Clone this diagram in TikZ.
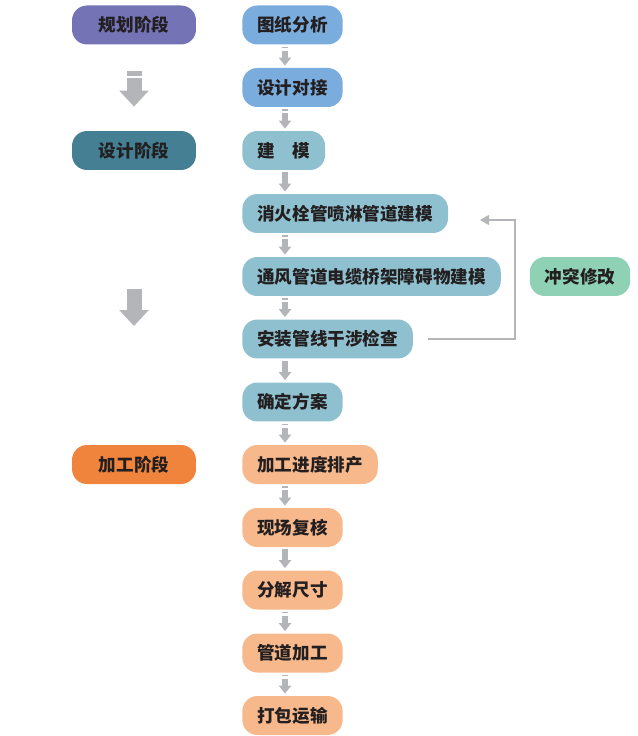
\documentclass[tikz,border=0pt]{standalone}
\usepackage{fontspec}
\setmainfont{Noto Sans CJK SC}
\usepackage{xcolor}
\usetikzlibrary{arrows.meta}
\definecolor{plancol}{HTML}{7373B5}
\definecolor{designcol}{HTML}{457F94}
\definecolor{makecol}{HTML}{F0843C}
\definecolor{drawcol}{HTML}{7AADDD}
\definecolor{modelcol}{HTML}{8FC0CF}
\definecolor{fabcol}{HTML}{F7B98C}
\definecolor{fixcol}{HTML}{8FD1B4}
\definecolor{arrgray}{HTML}{B4B5B8}
\definecolor{ink}{HTML}{231F20}
\begin{document}
\begin{tikzpicture}[x=0.02cm,y=-0.02cm,
  box/.style={rounded corners=0.3cm,minimum height=0.78cm,inner xsep=0.3cm,inner ysep=0pt,
    text=ink,font=\fontsize{10pt}{12pt}\selectfont\bfseries},
  stage/.style={box,minimum width=2.48cm},
  task/.style={box,anchor=west},
  flow/.style={draw=arrgray,line width=0.12cm,-{Triangle[width=0.24cm,length=0.16cm]},
    shorten <=0.04cm,shorten >=0.04cm},
  flowbar/.style={flow,dash pattern=on 0.03cm off 0.05cm on 2cm off 0.1cm},
  bigflow/.style={draw=arrgray,line width=0.3cm,-{Triangle[width=0.57cm,length=0.32cm]}},
  loopline/.style={draw=arrgray,line width=0.7pt,-{Triangle[width=0.2cm,length=0.18cm]}}]
\useasboundingbox (0,0) rectangle (638,736);
%
\node[stage,fill=plancol] (s1) at (134,25) {规划阶段};
\node[stage,fill=designcol] (s2) at (134,150.5) {设计阶段};
\node[stage,fill=makecol] (s3) at (134,464.5) {加工阶段};
\coordinate (g1) at (134,289);
\coordinate (g2) at (134,326);
\draw[bigflow,dash pattern=on 0.1cm off 0.04cm on 2cm off 0.1cm,shorten <=0.52cm,shorten >=0.48cm] (s1) -- (s2);
\draw[bigflow] (g1) -- (g2);
%
\node[task,fill=drawcol] (r1) at (242,25) {图纸分析};
\node[task,fill=drawcol] (r2) at (242,87.5) {设计对接};
\node[task,fill=modelcol] (r3) at (242,150.5) {建\quad 模};
\node[task,fill=modelcol] (r4) at (242,213.5) {消火栓管喷淋管道建模};
\node[task,fill=modelcol] (r5) at (242,276.5) {通风管道电缆桥架障碍物建模};
\node[task,fill=modelcol] (r6) at (242,339) {安装管线干涉检查};
\node[task,fill=modelcol] (r7) at (242,402) {确定方案};
\node[task,fill=fabcol] (r8) at (242,464.5) {加工进度排产};
\node[task,fill=fabcol] (r9) at (242,527.5) {现场复核};
\node[task,fill=fabcol] (r10) at (242,590) {分解尺寸};
\node[task,fill=fabcol] (r11) at (242,653) {管道加工};
\node[task,fill=fabcol] (r12) at (242,715.5) {打包运输};
\node[box,fill=fixcol,minimum width=2cm] (fix) at (580,276.5) {冲突修改};
%
\draw[flowbar] (r1.south -| 285,0) -- (r2.north -| 285,0);
\draw[flowbar] (r2.south -| 285,0) -- (r3.north -| 285,0);
\draw[flow] (r3.south -| 285,0) -- (r4.north -| 285,0);
\draw[flowbar] (r4.south -| 285,0) -- (r5.north -| 285,0);
\draw[flowbar] (r5.south -| 285,0) -- (r6.north -| 285,0);
\draw[flow] (r6.south -| 285,0) -- (r7.north -| 285,0);
\draw[flowbar] (r7.south -| 285,0) -- (r8.north -| 285,0);
\draw[flowbar] (r8.south -| 285,0) -- (r9.north -| 285,0);
\draw[flow] (r9.south -| 285,0) -- (r10.north -| 285,0);
\draw[flowbar] (r10.south -| 285,0) -- (r11.north -| 285,0);
\draw[flowbar] (r11.south -| 285,0) -- (r12.north -| 285,0);
%
\coordinate (turn) at (515,220);
\coordinate (back) at (480,220);
\draw[loopline] ([xshift=0.3cm]r6.east) -| (turn) -- (back);
\end{tikzpicture}
\end{document}
